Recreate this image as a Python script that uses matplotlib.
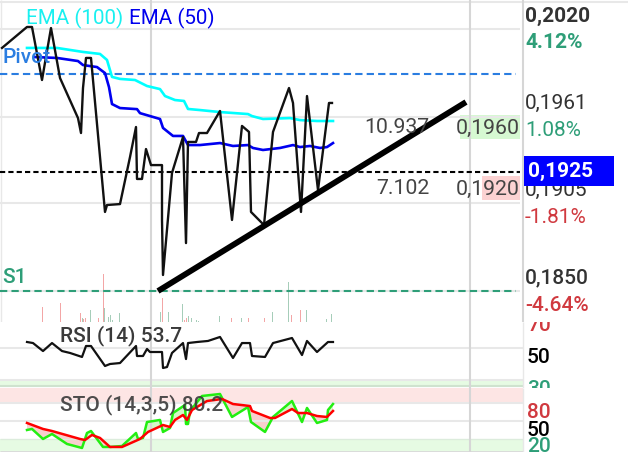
#!/usr/bin/env python3
"""Price chart with EMA, volume, RSI and stochastic panels."""

import numpy as np
import matplotlib
matplotlib.use("Agg")
import matplotlib.pyplot as plt
from matplotlib.patches import Rectangle

plt.rcParams["font.family"] = ["Roboto", "DejaVu Sans"]

WIDTH, HEIGHT = 628, 454
GRID = "#e8e8e8"
VLINE = "#d6d6d6"
GREEN = "#2e9e78"
RED = "#d0393f"
BLUE_DASH = "#2a7de1"
TEXT = "#444444"

price_x = [2, 27, 32, 42, 51, 60, 78, 81, 83, 86, 91, 105, 107, 120, 130, 136, 137, 142,
           146, 151, 162, 162, 163, 172, 183, 186, 188, 196, 199, 207, 220, 232, 242,
           249, 251, 264, 273, 289, 293, 301, 307, 318, 329, 332]
price = [.20077, .20213, .20213, .19869, .20206, .19882, .19622, .19525, .19817, .20012,
         .20012, .19013, .19058, .19064, .19369, .19564, .19227, .19227, .19421, .19317,
         .19317, .18961, .18604, .19266, .19499, .18811, .19467, .19467, .19525, .19525,
         .19668, .18961, .19571, .19532, .19013, .18928, .19532, .19817, .19720, .19013,
         .19765, .19155, .19720, .19720]

ema100_x = [27, 57, 83, 100, 107, 112, 120, 135, 147, 160, 165, 175, 184, 188, 200, 220,
            248, 252, 263, 290, 300, 317, 333]
ema100 = [.20077, .20077, .20051, .20038, .19999, .19889, .19876, .19869, .19830, .19810,
          .19765, .19739, .19733, .19681, .19674, .19661, .19648, .19635, .19616, .19622,
          .19609, .19603, .19603]

ema50_x = [35, 57, 78, 83, 97, 105, 109, 112, 120, 137, 140, 160, 163, 173, 183, 188, 200,
           220, 233, 248, 253, 263, 280, 293, 300, 310, 320, 327, 333]
ema50 = [.20018, .20012, .19992, .19966, .19953, .19914, .19823, .19713, .19687, .19680,
         .19654, .19616, .19558, .19506, .19506, .19447, .19447, .19460, .19441, .19447,
         .19428, .19415, .19428, .19447, .19434, .19441, .19428, .19434, .19460]

trend_x = [158, 466]
trend = [.18500, .19726]

grid_prices = [.2020, .1963, .1907, .1850]
pivot_level = .19906
s1_level = .1850
last_level = .19272

axis_labels = ["0,2020", "0,1961", "0,1905", "0,1850"]
pct_labels = ["4.12%", "1.08%", "-1.81%", "-4.64%"]
pct_colors = [GREEN, GREEN, RED, RED]
pct_bold = ["bold", "normal", "normal", "medium"]
axis_bold = ["bold", "normal", "normal", "medium"]

# volume: thin bars along the bottom of the price panel
vol_red_x = [42, 60, 80, 83, 85, 98, 103, 150, 162, 184, 186, 231, 248, 264, 291, 300]
vol_red = [15, 19, 9, 3, 4, 4, 48, 6, 24, 2, 4, 4, 4, 4, 7, 12]
vol_green_x = [82, 90, 104, 108, 110, 112, 119, 160, 168, 182, 188, 191, 196, 198, 219,
               241, 272, 288, 306, 326, 331]
vol_green = [4, 12, 14, 5, 7, 2, 9, 10, 10, 18, 6, 4, 2, 1, 6, 4, 10, 40, 12, 3, 8]

rsi_x = [27, 33, 43, 52, 62, 70, 82, 86, 91, 105, 110, 120, 136, 137, 143, 147, 150, 162,
         163, 167, 172, 183, 186, 188, 197, 208, 220, 233, 242, 250, 252, 265, 273, 292,
         302, 307, 317, 328, 333]
rsi = [53.75, 53.1, 48.1, 53.1, 48.1, 46.9, 44.4, 51.25, 51.25, 38.75, 40, 40.6, 51.25, 45,
       45, 49.4, 47.5, 47.5, 37.5, 38.1, 46.9, 53.1, 43.1, 53.1, 53.75, 54.4, 56.9, 43.75,
       53.1, 53.1, 45, 44.4, 53.1, 56.25, 45.6, 54.4, 47.5, 53.75, 53.75]

sto_d_x = [27, 43, 52, 80, 85, 92, 100, 110, 122, 140, 148, 163, 170, 175, 183, 187, 192,
           207, 222, 233, 250, 252, 270, 275, 292, 298, 307, 317, 327, 333]
sto_d = [46.7, 36.7, 33.3, 20, 18.3, 26.7, 21.7, 6.7, 6.7, 20, 31.7, 43.3, 40, 51.7, 60,
         51.7, 68.3, 83.3, 86.7, 78.3, 75, 66.7, 55, 55, 70, 63.3, 63.3, 58.3, 56.7, 66.7]

sto_k_x = [27, 32, 43, 52, 67, 82, 87, 91, 103, 110, 122, 136, 138, 143, 147, 160, 163,
           170, 173, 185, 186, 188, 190, 202, 220, 232, 248, 251, 265, 273, 292, 302, 307,
           317, 327, 328, 333]
sto_k = [35, 36.7, 20, 28.3, 11.7, 5, 30, 33.3, 6.7, 6.7, 8.3, 30, 20, 21.7, 48.3, 51.7,
         31.7, 38.3, 63.3, 76.7, 45, 45, 66.7, 91.7, 95, 56.7, 73.3, 48.3, 31.7, 56.7, 83.3,
         48.3, 71.7, 46.7, 51.7, 68.3, 78.3]


def panel(top, bottom):
    axes = fig.add_axes([0, 1 - bottom / HEIGHT, 1, (bottom - top) / HEIGHT])
    axes.set_xlim(0, WIDTH)
    axes.axis("off")
    return axes


def offset_label(axes, value, text, dy, **kwargs):
    # dy is in pixels below the level, figure runs at 100 dpi
    axes.annotate(text, (525, value), xytext=(0, -dy * 0.72), textcoords="offset points",
                  va="center", ha="left", **kwargs)


fig = plt.figure(figsize=(WIDTH / 100, HEIGHT / 100), dpi=100, facecolor="white")

# price panel
ax = panel(0, 322)
ax.set_ylim(.18299, .20388)
ax.hlines(.20375, 0, WIDTH, color=GRID, lw=1.5)
ax.hlines(grid_prices, 0, 520, color=GRID, lw=1.5)
ax.vlines([151, 470], .18299, .20388, color=VLINE, lw=1.5)
ax.vlines(523, .18299, .20388, color=VLINE, lw=1.5)
ax.vlines(1, .18299, .20388, color=GRID, lw=1)

vol = ax.twinx()
vol.set_ylim(0, 322)
vol.axis("off")
vol.bar(vol_red_x, vol_red, width=1, color="#f3a6a6")
vol.bar(vol_green_x, vol_green, width=1, color="#a6cdb9")

ax.set_zorder(vol.get_zorder() + 1)
ax.patch.set_visible(False)

ax.hlines(pivot_level, 0, 516, color=BLUE_DASH, lw=1.5, linestyles=(0, (3.5, 2)))
ax.hlines(s1_level, 0, 516, color=GREEN, lw=1.5, linestyles=(0, (3.5, 2)))
ax.hlines(last_level, 0, 520, color="black", lw=1.5, linestyles=(0, (2.5, 1.5)))

ax.text(2, .20012, "Pivot", color=BLUE_DASH, fontsize=15, fontweight="medium", va="center")
ax.text(2, .18590, "S1", color=GREEN, fontsize=15, fontweight="medium", va="center")
ax.text(26, .20270, "EMA (100)", color="#19f0f0", fontsize=14.8, va="center")
ax.text(129, .20270, "EMA (50)", color="#0000ee", fontsize=14.8, va="center")

ax.add_patch(Rectangle((460, .19486), 60, .00156, color="#d6f9d2", lw=0))
ax.add_patch(Rectangle((482, .19090), 38, .00156, color="#fcd2d2", lw=0))
ax.text(429.5, .19558, "10.937", color=TEXT, fontsize=15.3, ha="right", va="center")
ax.text(429.5, .19162, "7.102", color=TEXT, fontsize=15.3, ha="right", va="center")
ax.text(520, .19558, "0,1960", color=TEXT, fontsize=15.3, ha="right", va="center")
ax.text(520, .19162, "0,1920", color=TEXT, fontsize=15.3, ha="right", va="center")

ax.plot(ema100_x, ema100, color="#00ffff", lw=1.9)
ax.plot(ema50_x, ema50, color="#0000f0", lw=1.9)
ax.plot(price_x, price, color="#111111", lw=1.7)
ax.plot(trend_x, trend, color="black", lw=4.2, solid_capstyle="butt")

for level, label, weight in zip(grid_prices, axis_labels, axis_bold):
    offset_label(ax, level, label, -13, color="#333333", fontsize=15, fontweight=weight)
for level, label, color, weight in zip(grid_prices, pct_labels, pct_colors, pct_bold):
    offset_label(ax, level, label, 14, color=color, fontsize=15, fontweight=weight)

ax.add_patch(Rectangle((524, .19181), 90, .00195, color="#0000ff", lw=0, zorder=5))
ax.text(528, .19278, "0,1925", color="white", fontsize=15, fontweight="bold", va="center", zorder=6)

# RSI panel, labels hang below their level and are cut by the panel edge
rsi_ax = panel(322, 388)
rsi_ax.set_ylim(25, 66.25)
rsi_ax.axhspan(26.25, 30, xmin=0, xmax=523 / WIDTH, color="#e6fbe3", lw=0)
rsi_ax.hlines(50, 0, 523, color=GRID, lw=1.5)
rsi_ax.hlines(30, 0, 523, color=GRID, lw=1.5)
rsi_ax.hlines(26.25, 0, 523, color="#cfe3cf", lw=1.5)
rsi_ax.vlines([151, 470], 25, 66.25, color=VLINE, lw=1.5)
rsi_ax.vlines(523, 25, 66.25, color=GRID, lw=1)
rsi_ax.plot(rsi_x, rsi, color="#111111", lw=1.6)
rsi_ax.text(60, 58, "RSI (14) 53.7", color="#3a3a3a", fontsize=15, fontweight="medium", va="center")
rsi_ax.text(527, 70, "70", color=RED, fontsize=15, fontweight="medium", va="top", clip_on=True)
rsi_ax.text(527, 50, "50", color="black", fontsize=15, fontweight="medium", va="top", clip_on=True)
rsi_ax.text(527, 30, "30", color=GREEN, fontsize=15, fontweight="medium", va="top", clip_on=True)

# stochastic panel
sto_ax = panel(388, 452)
sto_ax.set_ylim(-1.7, 105)
sto_ax.axhspan(80, 105, xmin=0, xmax=523 / WIDTH, color="#fde5e4", lw=0)
sto_ax.axhspan(-1.7, 20, xmin=0, xmax=523 / WIDTH, color="#e6fbe3", lw=0)
sto_ax.hlines([80, 50], 0, 523, color=GRID, lw=1.5)
sto_ax.hlines(20, 0, 523, color="#dcecdc", lw=1)
sto_ax.hlines(-1.7, 0, 523, color="#d9d9d9", lw=2)
sto_ax.vlines([151, 470], -1.7, 105, color=VLINE, lw=1.5)
sto_ax.vlines(523, -1.7, 105, color=GRID, lw=1)

shared_x = np.arange(27, 334)
k_line = np.interp(shared_x, sto_k_x, sto_k)
d_line = np.interp(shared_x, sto_d_x, sto_d)
sto_ax.fill_between(shared_x, k_line, d_line, where=k_line <= d_line, color="#f8cfcf", lw=0, interpolate=True)
sto_ax.fill_between(shared_x, k_line, d_line, where=k_line > d_line, color="#d4f7c8", lw=0, interpolate=True)
sto_ax.plot(sto_k_x, sto_k, color="#22ee11", lw=1.8)
sto_ax.plot(sto_d_x, sto_d, color="#ff0000", lw=1.8)
sto_ax.text(60, 78, "STO (14,3,5) 80.2", color="#3a3a3a", fontsize=15, fontweight="medium", va="center", alpha=0.9)
sto_ax.text(527, 80, "80", color=RED, fontsize=15, fontweight="medium", va="top")
sto_ax.text(527, 50, "50", color="black", fontsize=15, fontweight="medium", va="top")
sto_ax.text(527, 23, "20", color=GREEN, fontsize=15, fontweight="medium", va="top")

fig.savefig("out.png", dpi=100)
